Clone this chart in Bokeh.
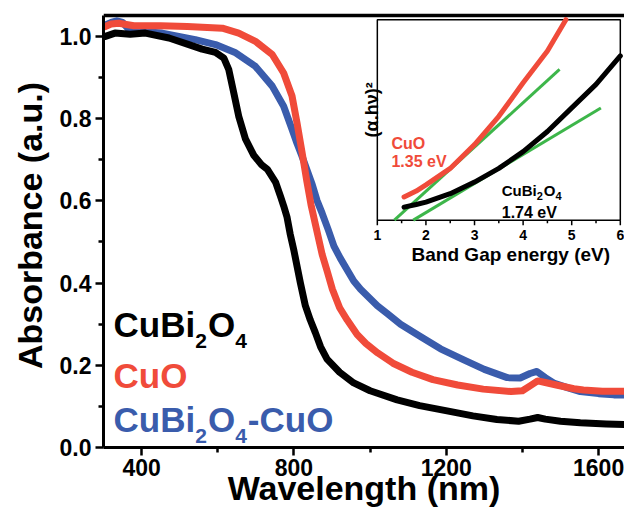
import math
from bokeh.plotting import figure
from bokeh.models import Range1d, FixedTicker
from bokeh.core.properties import value
from bokeh.embed import file_html
from bokeh.resources import INLINE

# ---------------- data ----------------
cubi_wl = [305, 330, 370, 410, 472, 524, 559, 594, 616, 629, 642, 655, 673, 695, 715,
           730, 752, 765, 773, 782, 790, 800, 817, 830, 843, 856, 870, 887, 920, 957,
           1000, 1071, 1130, 1202, 1270, 1333, 1390, 1420, 1440, 1460, 1500, 1552, 1620, 1689]
cubi_abs = [1.0, 1.008, 1.005, 1.008, 0.996, 0.98, 0.969, 0.961, 0.947, 0.919, 0.863, 0.806, 0.75, 0.71, 0.688,
            0.677, 0.645, 0.61, 0.588, 0.56, 0.52, 0.479, 0.40, 0.345, 0.31, 0.28, 0.245, 0.215, 0.183, 0.157,
            0.138, 0.116, 0.102, 0.089, 0.077, 0.068, 0.064, 0.069, 0.073, 0.069, 0.064, 0.06, 0.057, 0.055]

cuo_wl = [305, 320, 340, 380, 450, 520, 612, 655, 699, 743, 773, 795, 808, 821, 834,
          845, 856, 874, 887, 901, 920, 940, 966, 989, 1020, 1060, 1110, 1165, 1230, 1297,
          1370, 1400, 1420, 1440, 1460, 1489, 1535, 1560, 1610, 1689]
cuo_abs = [1.024, 1.03, 1.032, 1.026, 1.026, 1.024, 1.02, 1.008, 0.988, 0.956, 0.911, 0.855, 0.79, 0.72, 0.647,
           0.59, 0.544, 0.47, 0.43, 0.385, 0.34, 0.31, 0.275, 0.253, 0.23, 0.205, 0.183, 0.165, 0.152, 0.142,
           0.136, 0.138, 0.15, 0.162, 0.158, 0.152, 0.143, 0.14, 0.137, 0.137]

comp_wl = [305, 320, 335, 350, 367, 400, 454, 541, 594, 647, 699, 743, 773, 795, 808,
           821, 848, 861, 874, 890, 905, 922, 957, 975, 1019, 1045, 1080, 1132, 1185, 1246,
           1300, 1360, 1394, 1420, 1438, 1460, 1482, 1520, 1552, 1600, 1640, 1689]
comp_abs = [1.028, 1.034, 1.038, 1.034, 1.016, 1.012, 1.008, 0.992, 0.98, 0.96, 0.927, 0.879, 0.83, 0.774, 0.74,
            0.709, 0.64, 0.6, 0.57, 0.53, 0.49, 0.46, 0.405, 0.385, 0.345, 0.326, 0.30, 0.27, 0.24, 0.213,
            0.19, 0.17, 0.169, 0.18, 0.185, 0.17, 0.157, 0.145, 0.136, 0.131, 0.128, 0.127]

x_major = [400, 800, 1200, 1600]
x_minor = [600, 1000, 1400]
x_labels = ["400", "800", "1200", "1600"]
y_major = [0.0, 0.2, 0.4, 0.6, 0.8, 1.0]
y_minor = [0.1, 0.3, 0.5, 0.7, 0.9]
y_labels = ["0.0", "0.2", "0.4", "0.6", "0.8", "1.0"]

# inset (Tauc plot)
ins_E_cuo = [1.55, 1.8, 2.0, 2.5, 3.0, 3.5, 4.0, 4.5, 4.88]
ins_cuo = [0.116, 0.145, 0.176, 0.258, 0.377, 0.518, 0.685, 0.844, 1.0]
ins_E_cubi = [1.55, 1.8, 2.0, 2.5, 3.0, 3.5, 4.0, 4.5, 5.0, 5.5, 6.0]
ins_cubi = [0.065, 0.078, 0.09, 0.132, 0.19, 0.258, 0.342, 0.442, 0.56, 0.677, 0.819]
fit_cuo_E = [1.35, 4.75]
fit_cuo_y = [0.0, 0.752]
fit_cubi_E = [1.74, 5.6]
fit_cubi_y = [0.0, 0.559]
ins_x_major = [1, 2, 3, 4, 5, 6]
ins_x_minor = [1.5, 2.5, 3.5, 4.5, 5.5]
ins_x_labels = ["1", "2", "3", "4", "5", "6"]

# ---------------- style ----------------
FONT = "Liberation Sans"
BLACK = "#000000"
RED = "#F04B3A"
BLUE = "#3A5CAC"
GREEN = "#3DB64A"

W = {'C': 722, 'u': 611, 'B': 722, 'i': 278, 'O': 778, '-': 333, '2': 556, '4': 556}


def tw(s, size):
    return sum(W[c] for c in s) / 1000.0 * size


X_START, X_END = 300, 1668
Y_START, Y_END = 0, 1.08      # some head-room above the drawn frame top
FRAME_TOP = 1.051             # where the original's top border sits

p = figure(width=624, height=509, output_backend="svg", toolbar_location=None,
           x_range=Range1d(X_START, X_END), y_range=Range1d(Y_START, Y_END),
           min_border_left=103, min_border_right=0, min_border_top=3, min_border_bottom=0)
p.outline_line_color = None
p.grid.visible = False

xa = p.below[0]
ya = p.left[0]

xa.ticker = FixedTicker(ticks=x_major, minor_ticks=x_minor)
ya.ticker = FixedTicker(ticks=y_major, minor_ticks=y_minor)
ya.bounds = (Y_START, FRAME_TOP)
xa.major_label_overrides = dict(zip(x_major, x_labels))
ya.major_label_overrides = dict(zip(y_major, y_labels))
for ax in (xa, ya):
    ax.axis_line_width = 3
    ax.axis_line_color = BLACK
    ax.major_tick_line_width = 2.5
    ax.minor_tick_line_width = 2.5
    ax.major_tick_line_color = BLACK
    ax.minor_tick_line_color = BLACK
    ax.major_tick_in = 0
    ax.major_tick_out = 8
    ax.minor_tick_in = 0
    ax.minor_tick_out = 5
    ax.major_label_text_font = FONT
    ax.major_label_text_font_style = "bold"
    ax.major_label_text_font_size = "23px"
    ax.major_label_text_color = BLACK
    ax.axis_label_text_font = FONT
    ax.axis_label_text_font_style = "bold"
    ax.axis_label_text_font_size = "34px"
    ax.axis_label_text_color = BLACK
xa.axis_label = "Wavelength (nm)"
ya.axis_label = "Absorbance (a.u.)"
xa.major_label_standoff = 3
xa.axis_label_standoff = -10
ya.major_label_standoff = 4
ya.axis_label_standoff = 8

# top border of the frame, drawn as a glyph inside the plotting area
p.line([X_START, X_END], [FRAME_TOP, FRAME_TOP], line_color=BLACK, line_width=3.5)

# main curves
p.line(comp_wl, comp_abs, line_color=BLUE, line_width=7, line_join="round", line_cap="round")
p.line(cuo_wl, cuo_abs, line_color=RED, line_width=7, line_join="round", line_cap="round")
p.line(cubi_wl, cubi_abs, line_color=BLACK, line_width=7, line_join="round", line_cap="round")

# legend-like texts
LEG_X = 326.5
BIG, SMALL, SUB_DY = 35, 21, 16
legend_rows = [
    (0.298, BLACK, [("CuBi", BIG), ("2", SMALL), ("O", BIG), ("4", SMALL)]),
    (0.174, RED, [("CuO", BIG)]),
    (0.068, BLUE, [("CuBi", BIG), ("2", SMALL), ("O", BIG), ("4", SMALL), ("-CuO", BIG)]),
]
for yv, col, pieces in legend_rows:
    off = 0.0
    for txt, size in pieces:
        p.text(x=[LEG_X], y=[yv], text=[txt], text_font=value(FONT), text_font_style="bold",
               text_font_size=f"{size}px", text_color=col, text_baseline="alphabetic",
               text_align="left", x_offset=off, y_offset=(SUB_DY if size == SMALL else 0))
        off += tw(txt, size) + (1 if size == SMALL else 0)

# ---------------- inset ----------------
ins_xs = Range1d(1, 6)
ins_ys = Range1d(0, 1)
ins = p.subplot(x_source=ins_xs, y_source=ins_ys,
                x_target=Range1d(1019, 1657), y_target=Range1d(0.553, 1.0407))

ins.quad(left=[ins_xs.start], right=[ins_xs.end], bottom=[ins_ys.start], top=[ins_ys.end],
         fill_color="white", line_color=BLACK, line_width=1.5)
ins.line(fit_cuo_E, fit_cuo_y, line_color=GREEN, line_width=3)
ins.line(fit_cubi_E, fit_cubi_y, line_color=GREEN, line_width=3)
ins.line(ins_E_cubi, ins_cubi, line_color=BLACK, line_width=5, line_cap="round")
ins.line(ins_E_cuo, ins_cuo, line_color=RED, line_width=5, line_cap="round")

ins.ray(x=ins_x_major, y=[0] * len(ins_x_major), length=5, angle=-math.pi / 2,
        length_units="screen", line_color=BLACK, line_width=1.5)
ins.ray(x=ins_x_minor, y=[0] * len(ins_x_minor), length=3, angle=-math.pi / 2,
        length_units="screen", line_color=BLACK, line_width=1.5)
ins.text(x=ins_x_major, y=[0] * len(ins_x_major), text=ins_x_labels, text_font=value(FONT),
         text_font_style="bold", text_font_size="14px", text_align="center",
         text_baseline="alphabetic", y_offset=15, text_color=BLACK)
ins.text(x=[3.5], y=[0], text=["Band Gap energy (eV)"], text_font=value(FONT),
         text_font_style="bold", text_font_size="19px", text_align="center",
         text_baseline="alphabetic", x_offset=12, y_offset=34, text_color=BLACK)
ins.text(x=[1], y=[0.55], text=["(\u03b1.h\u03bd)\u00b2"], text_font=value(FONT),
         text_font_style="bold", text_font_size="18px", text_align="center",
         text_baseline="alphabetic", angle=math.pi / 2, x_offset=-5, text_color=BLACK)

# inset annotations
ins.text(x=[1.29, 1.29], y=[0.383, 0.291], text=["CuO", "1.35 eV"], text_font=value(FONT),
         text_font_style="bold", text_font_size="16px", text_color=RED, text_baseline="alphabetic")
IB, IS = 15, 11
off = 0.0
for txt, size in [("CuBi", IB), ("2", IS), ("O", IB), ("4", IS)]:
    ins.text(x=[3.56], y=[0.149], text=[txt], text_font=value(FONT), text_font_style="bold",
             text_font_size=f"{size}px", text_color=BLACK, text_baseline="alphabetic",
             x_offset=off, y_offset=(6 if size == IS else 0))
    off += tw(txt, size) + (1 if size == IS else 0)
ins.text(x=[3.56], y=[0.04], text=["1.74 eV"], text_font=value(FONT), text_font_style="bold",
         text_font_size="16px", text_color=BLACK, text_baseline="alphabetic")

open("out.html", "w").write(file_html(p, INLINE))
